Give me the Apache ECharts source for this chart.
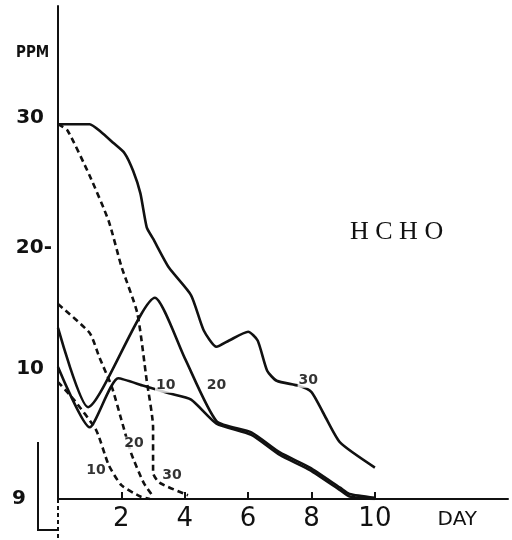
<!DOCTYPE html>
<html>
<head>
<meta charset="utf-8">
<script src="https://cdn.jsdelivr.net/npm/echarts@6/dist/echarts.min.js"></script>
<style>
  html, body { margin: 0; padding: 0; background: #fff; }
  #chart { width: 512px; height: 540px; }
</style>
</head>
<body>
<div id="chart"></div>
<script>
  // HCHO decay curves (day, ppm)
  var solid30 = [[0, 29.8], [1.0, 29.8], [1.35, 29.2], [1.75, 28.3], [2.1, 27.5], [2.37, 26.1], [2.6, 24.3], [2.8, 21.6],
    [3.0, 20.7], [3.5, 18.4], [4.2, 16.2], [4.6, 13.4], [5.0, 12.1], [5.4, 12.6], [6.0, 13.3], [6.3, 12.6],
    [6.6, 10.2], [6.9, 9.4], [7.6, 9.0], [8.0, 8.5], [8.4, 6.7], [8.9, 4.5], [10.0, 2.5]];
  var solid20 = [[0, 13.6], [0.95, 7.3], [3.06, 16.0], [4.0, 11.2], [5.0, 6.2], [6.1, 5.3], [7.0, 3.7], [7.95, 2.5], [8.9, 0.9], [9.2, 0.4], [10.0, 0.1]];
  var solid10 = [[0, 10.5], [1.0, 5.7], [1.9, 9.6], [2.7, 9.0], [3.5, 8.4], [4.2, 7.9], [5.0, 6.0], [6.1, 5.1],
    [7.0, 3.5], [7.95, 2.3], [8.9, 0.7], [9.2, 0.2], [10.0, 0]];
  var dashed30 = [[0, 29.8], [0.3, 29.3], [1.0, 25.7], [1.6, 22.1], [2.0, 18.5], [2.5, 14.8], [2.8, 9.4], [3.0, 5.7],
    [3.0, 2.1], [3.2, 1.3], [4.1, 0.3]];
  var dashed20 = [[0, 15.5], [1.0, 13.2], [1.3, 11.3], [1.7, 8.9], [2.0, 6.3], [2.3, 3.7], [2.7, 1.3], [3.0, 0.2]];
  var dashed10 = [[0, 9.3], [0.5, 7.9], [1.2, 5.5], [1.6, 2.7], [2.0, 1.1], [2.6, 0.2], [2.9, 0]];
  // little numbers written next to each curve
  var curveTags = [[7.9, 9.4, '30'], [3.4, 9.0, '10'], [5.0, 9.0, '20'], [1.2, 2.3, '10'], [2.4, 4.4, '20'], [3.6, 1.9, '30']];
  var dayTicks = [2, 4, 6, 8, 10];
  var ppmTicks = [0, 10, 20, 30];

  var chart = echarts.init(document.getElementById('chart'));
  var ink = '#111';
  var font = 'DejaVu Sans';

  function line(data, dashed) {
    return {
      type: 'line',
      data: data,
      smooth: 0.2,
      symbol: 'none',
      lineStyle: { color: ink, width: 2.6, type: dashed ? [6, 4] : 'solid' },
      z: 3
    };
  }

  chart.setOption({
    backgroundColor: '#fff',
    animation: false,
    grid: { left: 58, top: 6, width: 450, height: 493 },
    xAxis: {
      type: 'value', min: 0, max: 14.2,
      axisLine: { lineStyle: { color: ink, width: 2 } },
      axisTick: { show: true, inside: true, length: 7, customValues: dayTicks, lineStyle: { color: ink, width: 2 } },
      splitLine: { show: false },
      axisLabel: {
        customValues: dayTicks.concat([12.6]),
        margin: 7,
        formatter: function (v) { return v === 12.6 ? '{d|DAY}' : '{n|' + v + '}'; },
        rich: {
          n: { fontFamily: font, fontSize: 26, color: ink },
          d: { fontFamily: font, fontSize: 20, color: ink, padding: [4, 0, 0, 0] }
        }
      }
    },
    yAxis: {
      type: 'value', min: 0, max: 39.2,
      axisLine: { lineStyle: { color: ink, width: 2 } },
      axisTick: { show: false },
      splitLine: { show: false },
      axisLabel: {
        customValues: ppmTicks,
        margin: 6,
        formatter: function (v) { return v === 0 ? '{z|9}' : v === 20 ? '{n|20-}' : '{s|' + v + '}'; },
        rich: {
          n: { fontFamily: font, fontSize: 20, fontWeight: 'bold', color: ink },
          s: { fontFamily: font, fontSize: 20, fontWeight: 'bold', color: ink, padding: [0, 8, 8, 0] },
          z: { fontFamily: font, fontSize: 20, fontWeight: 'bold', color: ink, padding: [0, 26, 0, 0] }
        }
      }
    },
    graphic: [
      { type: 'text', left: 16, top: 46, style: { text: 'PPM', font: 'bold 15px "DejaVu Sans Condensed"', fill: ink } },
      { type: 'text', left: 350, top: 219, style: { text: 'H C H O', font: '26px "Liberation Serif"', fill: ink } },
      { type: 'polyline', shape: { points: [[38, 442], [38, 530], [58, 530]] }, style: { stroke: ink, lineWidth: 2, fill: null } },
      { type: 'line', shape: { x1: 58, y1: 499, x2: 58, y2: 540 }, style: { stroke: ink, lineWidth: 2, lineDash: [4, 3] } }
    ],
    series: [
      line(solid30, false),
      line(solid20, false),
      line(solid10, false),
      line(dashed30, true),
      line(dashed20, true),
      line(dashed10, true),
      {
        type: 'scatter',
        data: curveTags,
        symbolSize: 0,
        z: 5,
        label: {
          show: true, position: 'inside',
          formatter: function (p) { return p.value[2]; },
          fontFamily: font, fontSize: 14, fontWeight: 'bold', color: '#000',
          backgroundColor: '#fff', padding: [0, 1]
        }
      }
    ]
  });
</script>
</body>
</html>
